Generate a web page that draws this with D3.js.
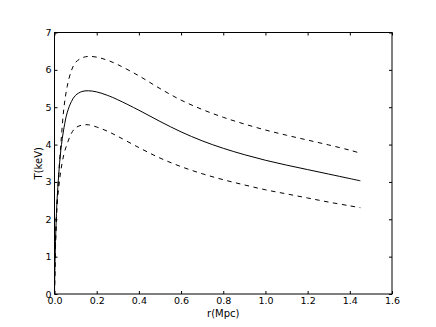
<!DOCTYPE html>
<html>
<head>
<meta charset="utf-8">
<script src="https://cdn.jsdelivr.net/npm/d3@7"></script>
<style>
  html, body { margin: 0; padding: 0; background: #fff; }
  svg { display: block; }
  text { font-family: "DejaVu Sans", sans-serif; fill: #000; }
</style>
</head>
<body>
<svg id="chart" width="436" height="327"></svg>
<script>
// Radius (Mpc)
const r = [0, 0.003, 0.007, 0.012, 0.02, 0.03, 0.045, 0.06, 0.08, 0.1, 0.13, 0.16, 0.2, 0.25, 0.3, 0.4, 0.5, 0.6, 0.7, 0.8, 0.9, 1.0, 1.1, 1.2, 1.3, 1.4, 1.45];
// Temperature (keV)
const tMid   = [0, 1.0, 1.8, 2.5, 3.2, 3.85, 4.45, 4.85, 5.15, 5.32, 5.42, 5.44, 5.41, 5.32, 5.2, 4.92, 4.62, 4.34, 4.1, 3.9, 3.73, 3.58, 3.45, 3.33, 3.21, 3.09, 3.03];
const tUpper = [0, 0.9, 1.7, 2.4, 3.2, 4.0, 5.0, 5.55, 5.98, 6.2, 6.32, 6.36, 6.34, 6.26, 6.14, 5.84, 5.5, 5.19, 4.94, 4.73, 4.55, 4.39, 4.25, 4.12, 3.99, 3.85, 3.77];
const tLower = [0, 1.0, 1.8, 2.4, 2.85, 3.3, 3.75, 4.02, 4.3, 4.45, 4.52, 4.53, 4.47, 4.36, 4.22, 3.92, 3.64, 3.41, 3.22, 3.06, 2.92, 2.79, 2.68, 2.57, 2.46, 2.36, 2.31];
const xTicks = [0, 0.2, 0.4, 0.6, 0.8, 1.0, 1.2, 1.4, 1.6];
const yTicks = [0, 1, 2, 3, 4, 5, 6, 7];
const xLabel = "r(Mpc)";
const yLabel = "T(keV)";

const svg = d3.select("#chart");
const m = { left: 54.5, right: 392, top: 32.5, bottom: 294 };
const x = d3.scaleLinear().domain([0, 1.6]).range([m.left, m.right]);
const y = d3.scaleLinear().domain([0, 7]).range([m.bottom, m.top]);

svg.append("rect").attr("width", 436).attr("height", 327).attr("fill", "#fff");

const line = d3.line().x((d, i) => x(r[i])).y(d => y(d)).curve(d3.curveCatmullRom.alpha(0.5));

const series = [
  { v: tUpper, dash: "4.5,4.5" },
  { v: tMid, dash: null },
  { v: tLower, dash: "4.5,4.5" }
];
svg.append("clipPath").attr("id", "clip").append("rect")
  .attr("x", m.left).attr("y", m.top).attr("width", m.right - m.left).attr("height", m.bottom - m.top);
const g = svg.append("g").attr("clip-path", "url(#clip)");
series.forEach(s => {
  g.append("path").datum(s.v).attr("d", line)
    .attr("fill", "none").attr("stroke", "#000").attr("stroke-width", 1)
    .attr("stroke-dasharray", s.dash);
});

// axes (ticks inside on all four sides)
const tl = 3;
const axB = d3.axisBottom(x).tickValues(xTicks).tickFormat(d3.format(".1f")).tickSizeInner(-tl).tickSizeOuter(0).tickPadding(3);
const axT = d3.axisTop(x).tickValues(xTicks).tickFormat("").tickSizeInner(-tl).tickSizeOuter(0);
const axL = d3.axisLeft(y).tickValues(yTicks).tickFormat(d3.format("d")).tickSizeInner(-tl).tickSizeOuter(0).tickPadding(3);
const axR = d3.axisRight(y).tickValues(yTicks).tickFormat("").tickSizeInner(-tl).tickSizeOuter(0);

function style(sel) {
  sel.select(".domain").remove();
  sel.selectAll("line").attr("stroke", "#000").attr("stroke-width", 1);
  sel.selectAll("text").attr("font-size", 9.5).attr("font-family", "DejaVu Sans");
}
svg.append("g").attr("transform", `translate(0,${m.bottom})`).call(axB).call(style);
svg.append("g").attr("transform", `translate(0,${m.top})`).call(axT).call(style);
svg.append("g").attr("transform", `translate(${m.left},0)`).call(axL).call(style);
svg.append("g").attr("transform", `translate(${m.right},0)`).call(axR).call(style);

svg.append("rect").attr("x", m.left).attr("y", m.top)
  .attr("width", m.right - m.left).attr("height", m.bottom - m.top)
  .attr("fill", "none").attr("stroke", "#000").attr("stroke-width", 1);

svg.append("text").attr("x", (m.left + m.right) / 2).attr("y", 316.5)
  .attr("text-anchor", "middle").attr("font-size", 10).text(xLabel);
svg.append("text").attr("transform", `translate(41.5,${(m.top + m.bottom) / 2}) rotate(-90)`)
  .attr("text-anchor", "middle").attr("font-size", 10).text(yLabel);
</script>
</body>
</html>
